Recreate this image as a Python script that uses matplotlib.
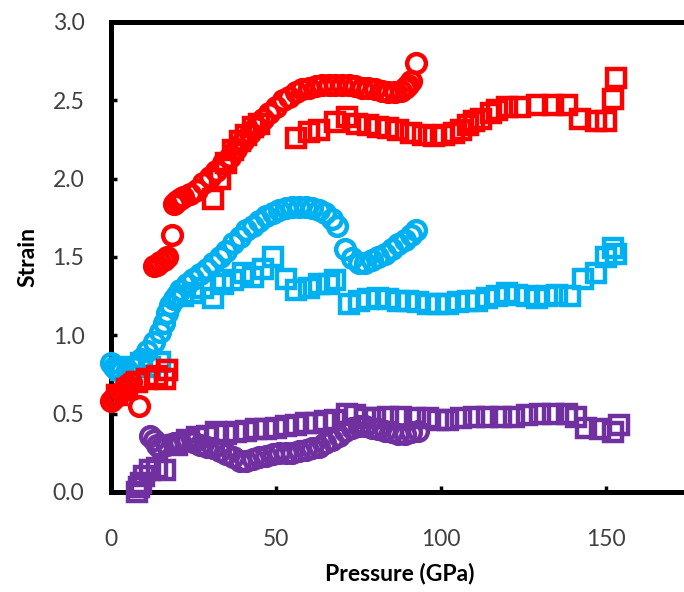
import matplotlib.pyplot as plt

# red series
red_circ_p = [0, 1, 2, 3, 4, 5, 6, 8.5, 13, 14, 15, 16, 17, 18.5,
              19, 20, 21, 22, 24, 26, 28, 30, 32, 34, 36, 38, 40, 42, 44, 46, 48, 50,
              52, 54, 56, 58, 60, 62, 64, 66, 68, 70, 72, 74, 76, 78, 80, 82, 84, 86,
              88, 89, 90, 91, 92.5]
red_circ_s = [0.58, 0.6, 0.62, 0.64, 0.66, 0.68, 0.7, 0.55, 1.44, 1.45, 1.47, 1.48, 1.5, 1.64,
              1.84, 1.86, 1.87, 1.88, 1.9, 1.93, 1.97, 2.01, 2.05, 2.1, 2.14, 2.19, 2.24, 2.29,
              2.33, 2.38, 2.42, 2.46, 2.5, 2.52, 2.55, 2.57, 2.58, 2.59, 2.6, 2.6, 2.6, 2.6, 2.6,
              2.59, 2.58, 2.58, 2.57, 2.56, 2.55, 2.55, 2.56, 2.58, 2.6, 2.62, 2.74]
red_sq_p = [2, 5, 8, 11, 14, 16.5, 17, 31, 33, 35, 37, 39, 41, 43, 45,
            56, 60, 63, 68, 71.5, 74.5, 78, 81, 84, 87, 91, 94.5, 98, 101, 104, 106, 108,
            110, 112, 115, 117, 120, 124, 129, 134, 138, 142, 147, 150, 152, 153]
red_sq_s = [0.62, 0.66, 0.7, 0.72, 0.74, 0.72, 0.78, 1.87, 2.0, 2.1, 2.18, 2.24, 2.28, 2.33, 2.35,
            2.26, 2.3, 2.31, 2.36, 2.39, 2.35, 2.34, 2.33, 2.32, 2.31, 2.29, 2.28, 2.27, 2.28,
            2.29, 2.31, 2.34, 2.37, 2.38, 2.42, 2.44, 2.46, 2.46, 2.47, 2.47, 2.47, 2.38, 2.37,
            2.37, 2.51, 2.64]

# blue series
blue_circ_p = [0, 1, 2, 3, 5, 7, 9, 11, 13, 15, 16, 17, 18, 19, 20, 21, 23, 25, 27, 29, 31,
               33, 35, 37, 39, 41, 43, 45, 47, 49, 51, 53, 55, 57, 59, 61, 63, 65, 67, 68.5,
               71, 73, 75, 77, 79, 81, 83, 85, 87, 89, 91, 92.5]
blue_circ_s = [0.82, 0.8, 0.78, 0.77, 0.78, 0.8, 0.85, 0.9, 0.96, 1.02, 1.08, 1.14, 1.19, 1.23,
               1.26, 1.29, 1.33, 1.36, 1.39, 1.42, 1.46, 1.5, 1.54, 1.59, 1.63, 1.67, 1.7, 1.73,
               1.76, 1.78, 1.8, 1.81, 1.82, 1.82, 1.82, 1.81, 1.8, 1.78, 1.74, 1.7, 1.55, 1.49,
               1.46, 1.46, 1.48, 1.5, 1.52, 1.55, 1.58, 1.61, 1.64, 1.67]
blue_sq_p = [3, 6, 9, 12, 15, 17, 22, 25, 28, 31, 34, 37, 40, 43, 46, 49, 53, 56, 60, 63, 66, 68,
             72, 75, 78, 81, 84, 87, 90, 93, 96, 99, 102, 105, 108, 111, 114, 117, 120, 123,
             126, 129, 132, 135, 139, 143, 147, 150, 152, 153]
blue_sq_s = [0.78, 0.8, 0.82, 0.8, 0.83, 0.78, 1.25, 1.27, 1.3, 1.24, 1.33, 1.35, 1.4, 1.37,
             1.42, 1.5, 1.36, 1.29, 1.3, 1.33, 1.33, 1.35, 1.2, 1.22, 1.23, 1.24, 1.23, 1.22,
             1.22, 1.21, 1.2, 1.2, 1.2, 1.21, 1.22, 1.22, 1.24, 1.25, 1.27, 1.26, 1.25, 1.24,
             1.25, 1.26, 1.25, 1.36, 1.4, 1.5, 1.56, 1.52]

# purple series
purp_circ_p = [12, 13, 14, 15, 17, 19, 21, 23, 25, 27, 29, 31, 33, 35, 37, 39, 41, 43, 45, 47,
               49, 51, 53, 55, 57, 59, 61, 63, 65, 67, 69, 71, 73, 75, 77, 79, 81, 83, 85, 87,
               89, 91, 93]
purp_circ_s = [0.36, 0.33, 0.3, 0.28, 0.3, 0.31, 0.32, 0.33, 0.32, 0.3, 0.29, 0.28, 0.26, 0.24,
               0.22, 0.2, 0.2, 0.21, 0.22, 0.23, 0.24, 0.25, 0.25, 0.25, 0.26, 0.27, 0.28, 0.29,
               0.31, 0.33, 0.36, 0.39, 0.41, 0.42, 0.42, 0.41, 0.4, 0.39, 0.38, 0.37, 0.37, 0.38,
               0.39]
purp_sq_p = [8, 8.5, 9, 10, 12, 14, 16.5, 20, 23, 26, 29, 32, 35, 38, 41, 44, 47, 50, 53, 56,
             59, 62, 65, 68, 71.5, 74, 77, 80, 84, 88, 92, 96, 99, 102, 106, 110, 114, 118,
             122, 126, 130, 134, 138, 141, 144, 148, 152, 154]
purp_sq_s = [0.0, 0.03, 0.06, 0.1, 0.14, 0.15, 0.14, 0.3, 0.33, 0.35, 0.36, 0.38, 0.37, 0.38,
             0.39, 0.4, 0.4, 0.41, 0.42, 0.43, 0.44, 0.44, 0.45, 0.46, 0.5, 0.49, 0.47, 0.47,
             0.48, 0.48, 0.47, 0.47, 0.46, 0.46, 0.47, 0.48, 0.48, 0.48, 0.48, 0.49, 0.5, 0.5,
             0.5, 0.48, 0.41, 0.4, 0.38, 0.43]

RED = '#ff0000'
BLUE = '#00b0f0'
PURPLE = '#7030a0'

plt.rcParams['font.family'] = ['Lato', 'DejaVu Sans']

fig = plt.figure(figsize=(6.84, 5.92), dpi=100)
ax = fig.add_axes([0.162, 0.169, 0.845, 0.794])

mk = dict(ls='none', mfc='none', ms=13.5, mew=3.2, clip_on=False)
ax.plot(blue_sq_p, blue_sq_s, marker='s', mec=BLUE, **mk)
ax.plot(blue_circ_p, blue_circ_s, marker='o', mec=BLUE, **mk)
ax.plot(red_sq_p, red_sq_s, marker='s', mec=RED, **mk)
ax.plot(red_circ_p, red_circ_s, marker='o', mec=RED, **mk)
ax.plot(purp_sq_p, purp_sq_s, marker='s', mec=PURPLE, **mk)
ax.plot(purp_circ_p, purp_circ_s, marker='o', mec=PURPLE, **mk)

ax.set_xlim(0, 175)
ax.set_ylim(0, 3.0)
ax.set_xticks([0, 50, 100, 150])
ax.set_yticks([0, 0.5, 1.0, 1.5, 2.0, 2.5, 3.0])
ax.set_yticklabels(['0.0', '0.5', '1.0', '1.5', '2.0', '2.5', '3.0'])

for s in ax.spines.values():
    s.set_linewidth(3.6)
    s.set_zorder(1)
ax.tick_params(direction='in', length=4, width=2.5, labelsize=16.5,
               labelcolor='#404040')
ax.tick_params(axis='y', pad=19)
ax.tick_params(axis='x', pad=27)

ax.set_xlabel('Pressure (GPa)', fontsize=16.5, fontweight='bold', labelpad=9)
ax.set_ylabel('Strain', fontsize=16.5, fontweight='bold', labelpad=10)

fig.savefig('out.png', dpi=100)
